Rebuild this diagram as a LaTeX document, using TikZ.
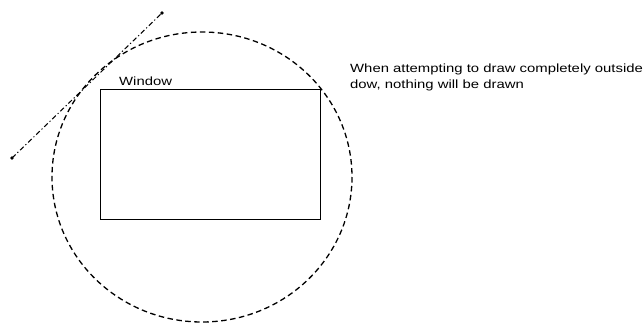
\documentclass[tikz,border=0pt]{standalone}
\usepackage{fontspec}
\newfontfamily\labfont[FakeStretch=1.25]{Liberation Sans}
\begin{document}
\begin{tikzpicture}[x=1pt,y=-1pt,
  circdash/.style={line width=1.3pt,dash pattern=on 5.5pt off 3.5pt},
  tangline/.style={line width=1pt,dash pattern=on 5pt off 2.5pt on 1.2pt off 2.5pt},
  winbox/.style={draw,line width=1.1pt,minimum width=220pt,minimum height=130pt,inner sep=0pt},
  lab/.style={font=\labfont\fontsize{11.9pt}{16pt}\selectfont,inner sep=0pt,text=black},
  enddot/.style={circle,fill,inner sep=0pt,minimum size=3.6pt}]
\useasboundingbox (0,0) rectangle (643,324);
% clipping circle
\draw[circdash] (202,177) ellipse [x radius=150, y radius=145];
% window
\node[winbox] (win) at (210.5,154.5) {};
\node[lab,anchor=south west] (wlab) at (119,86) {Window};
% line to be drawn
\node[enddot] (p1) at (12,158) {};
\node[enddot] (p2) at (162,13) {};
\draw[tangline] (p1.center) -- (p2.center);
% caption
\node[lab,anchor=north west,align=left] (cap) at (350,63.5) {When attempting to draw completely outside\\dow, nothing will be drawn};
\end{tikzpicture}
\end{document}
